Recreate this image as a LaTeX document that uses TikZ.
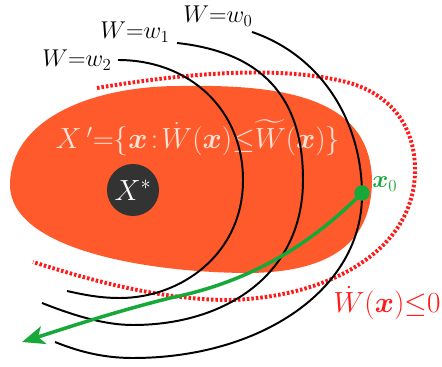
\documentclass[tikz,border=0pt]{standalone}
\usepackage{amsmath,bm}
\usetikzlibrary{arrows.meta}
\definecolor{setfill}{HTML}{FF5A2C}
\definecolor{eqfill}{HTML}{333333}
\definecolor{trajgreen}{HTML}{17A83A}
\definecolor{decred}{HTML}{FF1A1A}
\definecolor{paletxt}{HTML}{FFE3D6}
\tikzset{
  level/.style={draw=black, line width=1.4pt},
  decbound/.style={draw=decred, line width=2.8pt, dash pattern=on 1.8pt off 1.4pt},
  traj/.style={draw=trajgreen, line width=2.5pt, -{Stealth[length=16pt,width=13pt,inset=4pt]}},
  lbl/.style={font=\fontsize{18}{22}\selectfont, inner sep=0pt},
  biglbl/.style={font=\fontsize{21}{25}\selectfont, inner sep=0pt}
}

\begin{document}
\begin{tikzpicture}[x=0.025cm, y=-0.025cm]
  \useasboundingbox (0,0) rectangle (442,367);

  % the set X'
  \fill[setfill] (10,185) .. controls (10,120) and (90,86) .. (180,86)
    .. controls (290,84) and (370,100) .. (372,180)
    .. controls (372,250) and (320,272) .. (250,273)
    .. controls (150,273) and (10,250) .. cycle;

  % region where dW <= 0
  \draw[decbound] (97,88) .. controls (180,74) and (280,64) .. (350,83)
    .. controls (390,95) and (415,125) .. (415,170)
    .. controls (415,250) and (330,297) .. (230,300)
    .. controls (160,300) and (90,280) .. (33,262);

  \node[biglbl, text=paletxt] (setlbl) at (198,138)
    {$X\,'{=}\{\bm{x}\!:\!\dot W(\bm{x}){\le}\widetilde W(\bm{x})\}$};

  \node[circle, fill=eqfill, minimum size=37pt, inner sep=0pt, text=white,
        font=\fontsize{21}{25}\selectfont] (xstar) at (133,190) {$X^{*}$};

  % level sets of W
  \draw[level] (252,32) .. controls (320,55) and (362,120) .. (362,195)
    .. controls (362,290) and (260,358) .. (133,358)
    .. controls (100,358) and (75,350) .. (55,342);
  \draw[level] (177,43) .. controls (260,52) and (303,95) .. (303,180)
    .. controls (303,275) and (225,325) .. (133,325)
    .. controls (100,325) and (65,312) .. (42,303);
  \draw[level] (118,60) .. controls (190,60) and (243,110) .. (243,180)
    .. controls (243,255) and (180,298) .. (120,298)
    .. controls (100,298) and (85,295) .. (67,291);

  \node[lbl] (lw0) at (218,16) {$W{=}w_0$};
  \node[lbl] (lw1) at (135,32) {$W{=}w_1$};
  \node[lbl] (lw2) at (77,60) {$W{=}w_2$};

  % trajectory
  \node[circle, fill=trajgreen, minimum size=11pt, inner sep=0pt] (x0) at (362,193) {};
  \coordinate (tip) at (22,342);
  \draw[traj] (x0.center) .. controls (310,245) and (250,282) .. (170,298)
    .. controls (110,313) and (60,330) .. (tip);

  \node[lbl, text=trajgreen, anchor=west] (x0lbl) at (372,184) {$\bm{x}_0$};
  \node[biglbl, text=decred] (declbl) at (387,303) {$\dot W(\bm{x}){\le}0$};
\end{tikzpicture}
\end{document}
